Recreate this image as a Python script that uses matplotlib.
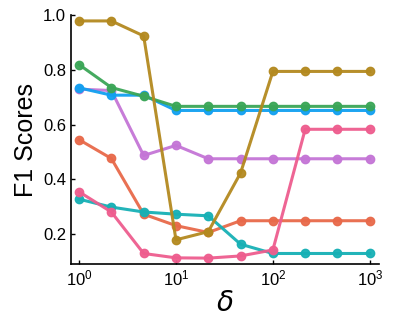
import numpy as np
import matplotlib.pyplot as plt

# delta values (log spaced, 1 .. 1000)
delta = [1, 2.154, 4.642, 10, 21.54, 46.42, 100, 215.4, 464.2, 1000]

orange = [0.545, 0.476, 0.272, 0.230, 0.205, 0.248, 0.248, 0.248, 0.248, 0.248]
teal = [0.327, 0.298, 0.280, 0.272, 0.266, 0.162, 0.128, 0.128, 0.128, 0.128]
purple = [0.730, 0.725, 0.487, 0.524, 0.475, 0.475, 0.475, 0.475, 0.475, 0.475]
blue = [0.735, 0.708, 0.708, 0.652, 0.652, 0.652, 0.652, 0.652, 0.652, 0.652]
green = [0.820, 0.736, 0.704, 0.667, 0.667, 0.667, 0.667, 0.667, 0.667, 0.667]
pink = [0.354, 0.280, 0.128, 0.112, 0.111, 0.119, 0.141, 0.583, 0.583, 0.583]
gold = [0.980, 0.980, 0.925, 0.178, 0.208, 0.423, 0.795, 0.795, 0.795, 0.795]

series = [
    (orange, "#e8694a"),
    (teal, "#17b0b5"),
    (purple, "#c475d6"),
    (blue, "#12a0f0"),
    (green, "#3ba657"),
    (pink, "#ee5d8e"),
    (gold, "#b3891f"),
]

plt.rcParams['font.family'] = ['Liberation Sans', 'DejaVu Sans']
plt.rcParams['mathtext.fontset'] = 'custom'
plt.rcParams['mathtext.rm'] = 'Liberation Sans'
plt.rcParams['mathtext.it'] = 'DejaVu Sans:italic'

fig = plt.figure(figsize=(3.95, 3.29), dpi=100)
ax = fig.add_axes([0.18, 0.198, 0.779, 0.755])

for vals, c in series:
    ax.plot(delta, vals, color=c, lw=2.2, marker='o', ms=6, alpha=0.95)

ax.set_xscale('log')
ax.set_xlim(10 ** -0.082, 10 ** 3.093)
ax.set_ylim(0.09, 1.0)
ax.set_xticks([1, 10, 100, 1000])
ax.set_yticks([0.2, 0.4, 0.6, 0.8, 1.0])
ax.set_yticklabels(['0.2', '0.4', '0.6', '0.8', '1.0'])
ax.minorticks_off()
ax.tick_params(direction='in', labelsize=12, length=3, width=1)

for s in ['top', 'right']:
    ax.spines[s].set_visible(False)
for s in ['left', 'bottom']:
    ax.spines[s].set_linewidth(1.2)

ax.set_ylabel("F1 Scores", fontsize=18)
ax.set_xlabel(r"$\delta$", fontsize=20, labelpad=2)

plt.savefig('out.png', dpi=100)
